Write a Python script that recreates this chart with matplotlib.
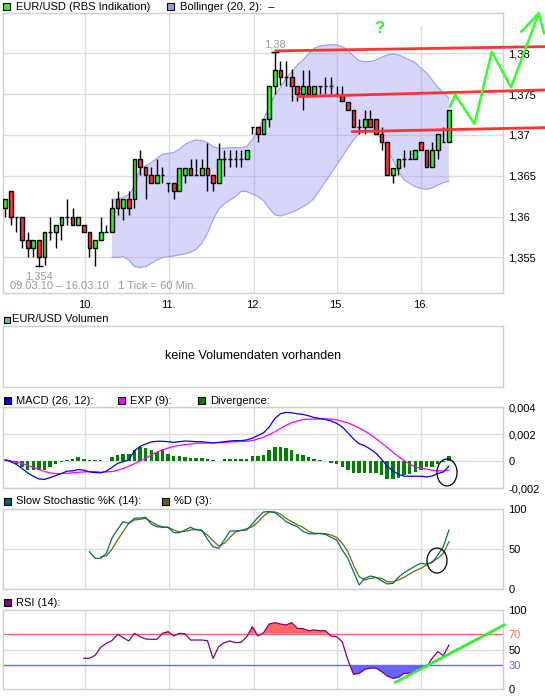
import matplotlib
matplotlib.use('Agg')
import matplotlib.pyplot as plt
from matplotlib.patches import Rectangle, Ellipse
import numpy as np

plt.rcParams['font.family'] = ['Liberation Sans', 'DejaVu Sans']
plt.rcParams['font.size'] = 8

# ---------------- data ----------------
day_labels = ['10.', '11.', '12.', '15.', '16.']
day_pos = [14.27, 29.11, 44.25, 59.11, 74.07]

opens = [1.3611, 1.3631, 1.3600, 1.3600, 1.3571, 1.3561, 1.3571, 1.3550, 1.3581, 1.3581,
         1.3590, 1.3600, 1.3600, 1.3590, 1.3590, 1.3581, 1.3561, 1.3571, 1.3581, 1.3581,
         1.3621, 1.3611, 1.3621, 1.3621, 1.3671, 1.3661, 1.3651, 1.3641, 1.3651, 1.3641,
         1.3641, 1.3631, 1.3651, 1.3660, 1.3651, 1.3651, 1.3660, 1.3651, 1.3641, 1.3671,
         1.3671, 1.3671, 1.3671, 1.3671, 1.3710, 1.3710, 1.3701, 1.3720, 1.3760, 1.3780,
         1.3771, 1.3771, 1.3760, 1.3750, 1.3760, 1.3750, 1.3760, 1.3760, 1.3760, 1.3750,
         1.3749, 1.3740, 1.3731, 1.3710, 1.3710, 1.3720, 1.3720, 1.3701, 1.3691, 1.3651,
         1.3660, 1.3671, 1.3671, 1.3671, 1.3691, 1.3681, 1.3661, 1.3681, 1.3691, 1.3691]
highs = [1.3621, 1.3631, 1.3600, 1.3600, 1.3581, 1.3571, 1.3571, 1.3581, 1.3600, 1.3590,
         1.3600, 1.3621, 1.3611, 1.3600, 1.3590, 1.3581, 1.3571, 1.3600, 1.3590, 1.3621,
         1.3631, 1.3621, 1.3631, 1.3671, 1.3681, 1.3661, 1.3661, 1.3671, 1.3661, 1.3641,
         1.3641, 1.3660, 1.3660, 1.3671, 1.3671, 1.3671, 1.3690, 1.3651, 1.3690, 1.3681,
         1.3681, 1.3681, 1.3681, 1.3681, 1.3710, 1.3710, 1.3720, 1.3760, 1.3802, 1.3791,
         1.3790, 1.3781, 1.3760, 1.3780, 1.3780, 1.3760, 1.3760, 1.3771, 1.3771, 1.3760,
         1.3760, 1.3740, 1.3731, 1.3720, 1.3731, 1.3731, 1.3720, 1.3710, 1.3691, 1.3660,
         1.3671, 1.3681, 1.3681, 1.3681, 1.3691, 1.3681, 1.3691, 1.3701, 1.3710, 1.3731]
lows = [1.3600, 1.3590, 1.3581, 1.3561, 1.3550, 1.3550, 1.3539, 1.3540, 1.3571, 1.3561,
        1.3571, 1.3590, 1.3590, 1.3590, 1.3581, 1.3550, 1.3539, 1.3571, 1.3581, 1.3581,
        1.3602, 1.3596, 1.3602, 1.3611, 1.3651, 1.3621, 1.3641, 1.3641, 1.3641, 1.3630,
        1.3621, 1.3631, 1.3641, 1.3651, 1.3651, 1.3651, 1.3631, 1.3631, 1.3641, 1.3650,
        1.3661, 1.3661, 1.3661, 1.3671, 1.3701, 1.3691, 1.3701, 1.3710, 1.3750, 1.3761,
        1.3760, 1.3741, 1.3741, 1.3731, 1.3750, 1.3750, 1.3750, 1.3750, 1.3750, 1.3747,
        1.3741, 1.3731, 1.3710, 1.3701, 1.3701, 1.3710, 1.3701, 1.3682, 1.3651, 1.3641,
        1.3651, 1.3661, 1.3671, 1.3671, 1.3681, 1.3661, 1.3661, 1.3671, 1.3691, 1.3691]
closes = [1.3621, 1.3600, 1.3600, 1.3571, 1.3561, 1.3571, 1.3550, 1.3581, 1.3581, 1.3590,
          1.3600, 1.3600, 1.3590, 1.3600, 1.3581, 1.3561, 1.3571, 1.3581, 1.3581, 1.3611,
          1.3611, 1.3621, 1.3611, 1.3671, 1.3661, 1.3651, 1.3641, 1.3651, 1.3651, 1.3641,
          1.3631, 1.3660, 1.3660, 1.3651, 1.3651, 1.3660, 1.3651, 1.3641, 1.3671, 1.3671,
          1.3671, 1.3671, 1.3671, 1.3681, 1.3710, 1.3701, 1.3720, 1.3760, 1.3780, 1.3771,
          1.3771, 1.3760, 1.3750, 1.3760, 1.3750, 1.3760, 1.3760, 1.3760, 1.3760, 1.3750,
          1.3741, 1.3731, 1.3710, 1.3710, 1.3720, 1.3710, 1.3701, 1.3691, 1.3651, 1.3660,
          1.3671, 1.3671, 1.3671, 1.3681, 1.3681, 1.3661, 1.3681, 1.3701, 1.3691, 1.3731]

boll_start = 19
boll_upper = [1.36211, 1.36215, 1.36235, 1.36264, 1.36366, 1.36591, 1.36623, 1.36660, 1.36713, 1.36762,
              1.36775, 1.36783, 1.36824, 1.36885, 1.36918, 1.36938, 1.36930, 1.36905, 1.36856, 1.36836,
              1.36836, 1.36844, 1.36844, 1.36844, 1.36856, 1.36946, 1.37060, 1.37191, 1.37355, 1.37489,
              1.37583, 1.37694, 1.37775, 1.37857, 1.37918, 1.37992, 1.38061, 1.38090, 1.38098, 1.38106,
              1.38106, 1.38082, 1.38041, 1.37967, 1.37910, 1.37898, 1.37898, 1.37918, 1.37951, 1.37980,
              1.37992, 1.37980, 1.37951, 1.37918, 1.37886, 1.37816, 1.37763, 1.37673, 1.37583, 1.37518,
              1.37449]
boll_lower = [1.35500, 1.35500, 1.35508, 1.35467, 1.35386, 1.35377, 1.35386, 1.35426, 1.35467, 1.35496,
              1.35508, 1.35516, 1.35529, 1.35541, 1.35561, 1.35598, 1.35672, 1.35794, 1.35958, 1.36088,
              1.36154, 1.36203, 1.36243, 1.36309, 1.36305, 1.36276, 1.36243, 1.36194, 1.36100, 1.36019,
              1.36007, 1.36027, 1.36051, 1.36080, 1.36121, 1.36162, 1.36223, 1.36325, 1.36427, 1.36529,
              1.36632, 1.36734, 1.36836, 1.36938, 1.37020, 1.37048, 1.37048, 1.37028, 1.36958, 1.36836,
              1.36693, 1.36550, 1.36448, 1.36407, 1.36366, 1.36342, 1.36333, 1.36346, 1.36386, 1.36415,
              1.36435]

# MACD values in units of 1e-3
macd_e3 = [0.08, -0.05, -0.25, -0.55, -0.88, -1.13, -1.33, -1.36, -1.23, -1.08,
           -0.93, -0.75, -0.73, -0.63, -0.68, -0.81, -0.86, -0.88, -0.75, -0.48,
           -0.18, -0.05, 0.08, 0.75, 1.08, 1.26, 1.41, 1.46, 1.46, 1.43,
           1.38, 1.43, 1.48, 1.46, 1.43, 1.43, 1.38, 1.33, 1.38, 1.43,
           1.48, 1.51, 1.51, 1.56, 1.69, 1.89, 2.09, 2.52, 3.15, 3.50,
           3.60, 3.57, 3.50, 3.45, 3.35, 3.22, 3.15, 3.07, 2.97, 2.79,
           2.52, 2.09, 1.64, 1.28, 1.13, 0.88, 0.58, 0.13, -0.38, -0.73,
           -0.98, -1.13, -1.13, -1.13, -1.13, -1.18, -1.11, -0.93, -0.81, -0.38]
exp_e3 = [0.08, 0.00, -0.08, -0.18, -0.33, -0.48, -0.63, -0.78, -0.88, -0.93,
          -0.93, -0.91, -0.88, -0.83, -0.81, -0.78, -0.78, -0.83, -0.81, -0.78,
          -0.68, -0.55, -0.40, -0.20, 0.00, 0.20, 0.45, 0.65, 0.83, 0.96,
          1.08, 1.16, 1.21, 1.26, 1.31, 1.33, 1.33, 1.36, 1.36, 1.38,
          1.41, 1.43, 1.46, 1.46, 1.51, 1.64, 1.76, 1.96, 2.16, 2.42,
          2.64, 2.84, 2.97, 3.07, 3.10, 3.10, 3.12, 3.12, 3.10, 3.05,
          2.94, 2.82, 2.64, 2.44, 2.21, 1.96, 1.66, 1.33, 1.01, 0.65,
          0.33, 0.03, -0.23, -0.43, -0.53, -0.60, -0.68, -0.73, -0.73, -0.68]
div_e3 = [0.05, -0.08, -0.23, -0.48, -0.63, -0.68, -0.68, -0.63, -0.43, -0.23,
          -0.08, 0.10, 0.13, 0.28, 0.13, 0.08, 0.08, 0.08, 0.03, 0.33,
          0.45, 0.53, 0.53, 0.83, 1.03, 0.96, 0.83, 0.70, 0.78, 0.53,
          0.38, 0.38, 0.33, 0.25, 0.25, 0.20, 0.15, 0.08, 0.00, 0.15,
          0.15, 0.15, 0.15, 0.15, 0.38, 0.38, 0.45, 0.78, 1.03, 1.03,
          0.96, 0.78, 0.53, 0.45, 0.28, 0.15, 0.08, 0.00, -0.13, -0.25,
          -0.48, -0.63, -0.86, -0.88, -0.88, -0.88, -0.88, -1.06, -1.31, -1.31,
          -1.23, -1.06, -0.98, -0.81, -0.63, -0.48, -0.43, -0.23, -0.05, 0.38]

stoch_k_start = 15
stoch_k = [46.7, 38.3, 38.3, 44.6, 63.3, 74.6, 84.2, 82.1, 88.3, 88.8,
           89.6, 81.3, 77.9, 77.1, 77.1, 70.4, 70.4, 73.8, 77.1, 73.8,
           73.8, 62.1, 52.9, 50.8, 61.3, 72.5, 72.5, 73.3, 73.8, 81.3,
           89.6, 96.3, 96.7, 95.4, 90.4, 84.2, 80.8, 77.9, 72.1, 69.2,
           68.8, 69.2, 68.3, 64.6, 61.3, 48.8, 38.3, 21.7, 5.0, 13.3,
           16.3, 14.6, 10.4, 6.3, 7.1, 14.6, 20.4, 24.6, 28.8, 32.1,
           31.3, 32.9, 42.5, 52.9, 73.8]
stoch_d_start = 17
stoch_d = [40.4, 41.3, 49.6, 61.3, 71.7, 82.1, 86.3, 87.1, 88.3, 84.2,
           80.0, 77.9, 77.1, 73.8, 71.3, 72.1, 73.8, 74.6, 72.5, 67.5,
           60.4, 53.8, 57.1, 64.6, 71.3, 73.3, 75.4, 77.9, 83.8, 91.3,
           96.3, 96.3, 93.8, 88.3, 84.2, 80.4, 77.1, 72.1, 69.6, 69.6,
           69.2, 67.5, 64.6, 57.1, 46.7, 30.0, 15.4, 11.3, 13.3, 14.2,
           13.3, 9.2, 8.8, 11.3, 14.6, 18.8, 22.9, 25.8, 30.0, 34.2,
           38.3, 44.6, 59.2]

rsi_start = 14
rsi = [38.8, 38.8, 42.6, 52.7, 57.8, 61.2, 69.2, 65.0, 60.8, 70.5,
       66.2, 63.3, 62.9, 62.9, 70.5, 72.6, 67.1, 70.5, 70.0, 62.0,
       62.0, 62.0, 61.2, 38.8, 53.6, 58.6, 60.8, 58.6, 59.1, 66.2,
       78.9, 67.1, 71.3, 82.3, 84.0, 82.3, 81.0, 84.0, 76.8, 76.4,
       73.8, 74.7, 73.8, 73.8, 67.1, 66.2, 59.9, 36.7, 18.6, 19.8,
       24.9, 26.6, 26.6, 21.9, 16.5, 13.5, 14.8, 19.8, 19.8, 21.9,
       27.0, 27.8, 38.8, 47.3, 42.2, 55.7]

# hand-drawn annotations (candle index, price / indicator value)
red_lines = [([47.97, 96.09], [1.38029, 1.38082]),
             ([51.99, 96.09], [1.37469, 1.37551]),
             ([61.57, 96.09], [1.37040, 1.37089])]
zigzag_x = [79.18, 80.12, 83.54, 86.62, 90.04, 94.98, 95.91]
zigzag_y = [1.37346, 1.37489, 1.37134, 1.38020, 1.37583, 1.38490, 1.38245]
arrow_x = [91.89, 94.98]
arrow_y = [1.38266, 1.38490]
rsi_trend_x = [69.48, 88.79]
rsi_trend_y = [8.5, 81.0]

# ---------------- figure ----------------
W, H = 545, 698
fig = plt.figure(figsize=(W / 100, H / 100), dpi=100)
fig.patch.set_facecolor('white')

L, R = 3.0, 503.3


def box(top, bottom):
    return [L / W, 1 - bottom / H, (R - L) / W, (bottom - top) / H]


ax_main = fig.add_axes(box(13.3, 293.3))
ax_vol = fig.add_axes(box(326, 386.7))
ax_macd = fig.add_axes(box(407, 488))
ax_sto = fig.add_axes(box(509, 589))
ax_rsi = fig.add_axes(box(610, 689))
axes = [ax_main, ax_vol, ax_macd, ax_sto, ax_rsi]

GRID = '#dddddd'
for ax in axes:
    ax.set_xlim(-0.39, 88.67)
    for s in ax.spines.values():
        s.set_color('#cfcfcf')
        s.set_linewidth(1)
    ax.yaxis.tick_right()
    ax.tick_params(length=0, labelsize=8, pad=3.5)
    ax.set_xticks(day_pos)
    ax.set_xticklabels([])
    ax.set_axisbelow(True)

for ax in [ax_main, ax_macd, ax_sto, ax_rsi]:
    ax.grid(True, axis='x', color=GRID, lw=1)

ax_main.set_xticklabels(day_labels)
ax_main.tick_params(axis='x', pad=5)


def comma(v):
    s = ('%g' % v).replace('.', ',')
    return s

# ---- main chart ----
x = np.arange(len(opens))
o = np.array(opens); h = np.array(highs); lo = np.array(lows); c = np.array(closes)
ax_main.set_ylim(1.35059, 1.3849)
pticks = [1.355, 1.36, 1.365, 1.37, 1.375, 1.38]
ax_main.set_yticks(pticks)
ax_main.set_yticklabels([comma(v) for v in pticks])
ax_main.grid(True, axis='y', color=GRID, lw=1)

xb = np.arange(boll_start, boll_start + len(boll_upper))
ax_main.fill_between(xb, boll_lower, boll_upper, facecolor=(0.55, 0.55, 0.95), alpha=0.35,
                     lw=0, zorder=1)
ax_main.plot(xb, boll_upper, color='#9c9cf0', lw=0.8, zorder=1.5)
ax_main.plot(xb, boll_lower, color='#9c9cf0', lw=0.8, zorder=1.5)

# white patch where the 16. gridline is erased at the top
ax_main.add_patch(Rectangle((day_pos[4] - 0.6, 1.38330), 1.2, 0.00155, facecolor='white',
                            edgecolor='none', zorder=0.9))

ax_main.vlines(x, lo, h, color='black', lw=1, zorder=2)
up = c >= o
ax_main.bar(x, c - o, bottom=o, width=0.66,
            color=np.where(up, '#33ee33', '#ff3333'), edgecolor='black', linewidth=1, zorder=3)

# high / low markers
ihi = int(np.argmax(h)); ilo = int(np.argmin(lo))
ax_main.hlines(h[ihi], ihi - 0.75, ihi + 0.75, color='black', lw=1, zorder=3)
ax_main.hlines(lo[ilo], ilo - 0.75, ilo + 0.75, color='black', lw=1, zorder=3)
ax_main.text(ihi, h[ihi] + 0.0009, comma(round(h[ihi], 2)), color='#999999', ha='center',
             va='center', fontsize=8)
ax_main.text(ilo, lo[ilo] - 0.00122, comma(round(lo[ilo], 3)), color='#999999', ha='center',
             va='center', fontsize=8)
ax_main.text(0.014, 0.026, '09.03.10 \u2013 16.03.10   1 Tick = 60 Min.', color='#999999',
             transform=ax_main.transAxes, ha='left', va='center', fontsize=8)

for lx, ly in red_lines:
    ax_main.plot(lx, ly, color='#ff3333', lw=2, zorder=4, clip_on=False,
                 solid_capstyle='butt')
ax_main.plot(zigzag_x, zigzag_y, color='#33ff33', lw=1.8, zorder=4, clip_on=False)
ax_main.plot(arrow_x, arrow_y, color='#33ff33', lw=1.8, zorder=4, clip_on=False)
ax_main.text(66.65, 1.38306, '?', color='#33ee33', fontsize=12, fontweight='bold',
             ha='center', va='center', zorder=4)

# ---- volume ----
ax_vol.set_yticks([])
ax_vol.text(0.5, 0.5, 'keine Volumendaten vorhanden', transform=ax_vol.transAxes,
            ha='center', va='center', fontsize=9)

# ---- MACD ----
macd = np.array(macd_e3) * 1e-3
expv = np.array(exp_e3) * 1e-3
divv = np.array(div_e3) * 1e-3
ax_macd.set_ylim(-0.002, 0.004)
mticks = [-0.002, 0, 0.002, 0.004]
ax_macd.set_yticks(mticks)
ax_macd.set_yticklabels(['-0,002', '0', '0,002', '0,004'])
ax_macd.grid(True, axis='y', color=GRID, lw=1)
ax_macd.bar(x, divv, width=0.62, color='#008000', zorder=2)
ax_macd.plot(x, expv, color='#ff00ff', lw=0.9, zorder=3)
ax_macd.plot(x, macd, color='#0000ff', lw=0.9, zorder=3)
ax_macd.add_patch(Ellipse((78.65, -0.00085), 3.56, 0.0020, fill=False, edgecolor='black',
                          lw=0.9, zorder=4, clip_on=False))

# ---- Stochastic ----
ax_sto.set_ylim(0, 100)
ax_sto.set_yticks([0, 50, 100])
ax_sto.set_yticklabels(['0', '50', '100'])
ax_sto.grid(True, axis='y', color=GRID, lw=1)
xk = np.arange(stoch_k_start, stoch_k_start + len(stoch_k))
xd = np.arange(stoch_d_start, stoch_d_start + len(stoch_d))
ax_sto.plot(xd, stoch_d, color='#6b6b00', lw=0.9, zorder=3)
ax_sto.plot(xk, stoch_k, color='#007070', lw=0.9, zorder=3)
ax_sto.add_patch(Ellipse((76.87, 35.6), 3.56, 31.25, fill=False, edgecolor='black',
                         lw=0.9, zorder=4))

# ---- RSI ----
ax_rsi.set_ylim(0, 100)
rticks = [0, 30, 50, 70, 100]
ax_rsi.set_yticks(rticks)
ax_rsi.set_yticklabels([str(t) for t in rticks])
for lab, t in zip(ax_rsi.get_yticklabels(), rticks):
    if t == 70:
        lab.set_color('#ff6666')
    elif t == 30:
        lab.set_color('#6666ff')
ax_rsi.axhline(50, color=GRID, lw=1, zorder=0.5)
ax_rsi.axhline(70, color='#ff6666', lw=1, zorder=1)
ax_rsi.axhline(30, color='#6666ff', lw=1, zorder=1)
xr = np.arange(rsi_start, rsi_start + len(rsi))
rv = np.array(rsi)
ax_rsi.fill_between(xr, 70, rv, where=rv > 70, interpolate=True, color='#ff6666', lw=0, zorder=2)
ax_rsi.fill_between(xr, 30, rv, where=rv < 30, interpolate=True, color='#6666ff', lw=0, zorder=2)
ax_rsi.plot(xr, rv, color='#800080', lw=0.9, zorder=3)
ax_rsi.plot(rsi_trend_x, rsi_trend_y, color='#33ee33', lw=2, zorder=4, clip_on=False)

# ---------------- legends ----------------

def legend_item(px, py, color, label, tx=None, size=7):
    fig.add_artist(Rectangle((px / W, 1 - (py + size / 2) / H), size / W, size / H,
                             transform=fig.transFigure, facecolor=color, edgecolor='black',
                             lw=0.8))
    fig.text((tx if tx is not None else px + 12) / W, 1 - py / H, label, ha='left',
             va='center', fontsize=8)

legend_item(3, 6.5, '#33ee33', 'EUR/USD (RBS Indikation)', 15.5)
legend_item(167, 6.5, '#9999ee', 'Bollinger (20, 2):  \u2013', 179.5)
legend_item(3.5, 319.5, '#66cc66', 'EUR/USD Volumen', 12.5, size=6)
legend_item(3.5, 400.5, '#0000ff', 'MACD (26, 12):', 15.5)
legend_item(118, 400.5, '#ff00ff', 'EXP (9):', 130)
legend_item(198, 400.5, '#008000', 'Divergence:', 210)
legend_item(3.5, 501.5, '#006666', 'Slow Stochastic %K (14):', 15.5)
legend_item(161.5, 501.5, '#666600', '%D (3):', 174)
legend_item(3.5, 602.5, '#800080', 'RSI (14):', 15.5)

fig.savefig('out.png', dpi=100)
